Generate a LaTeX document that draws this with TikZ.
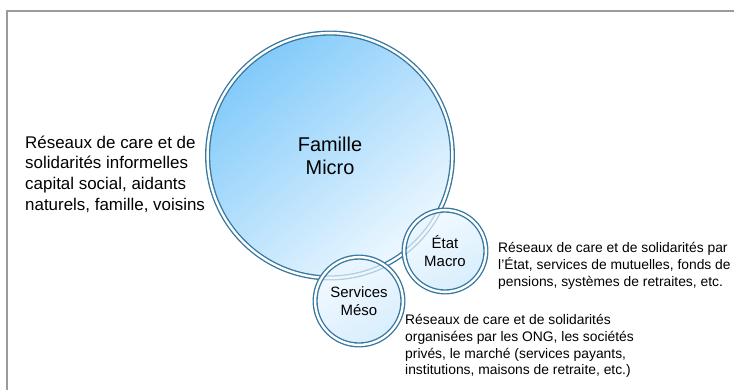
\documentclass[tikz,border=0pt]{standalone}
\usepackage{fontspec}
\setmainfont{Liberation Sans}
\definecolor{ringblue}{RGB}{55,120,160}
\definecolor{bigtl}{RGB}{130,202,250}
\definecolor{bigbr}{RGB}{238,248,255}
\definecolor{smalltop}{RGB}{238,248,255}
\definecolor{smallbot}{RGB}{200,230,251}
\definecolor{framegray}{RGB}{155,155,155}
\tikzset{
  ring/.style={circle, draw=ringblue, line width=1.35bp, double=white,
    double distance=2.4bp, inner sep=0pt, outer sep=0pt, align=center},
  bigring/.style={ring, top color=bigtl, bottom color=bigbr, shading angle=40,
    font=\fontsize{20}{23}\selectfont},
  smallring/.style={ring, top color=smalltop, bottom color=smallbot, shading angle=30,
    fill opacity=0.7, text opacity=1, font=\fontsize{15}{18.5}\selectfont},
  desc/.style={inner sep=0pt, anchor=west, align=left},
}
\begin{document}
\begin{tikzpicture}[x=1bp, y=-1bp]
\useasboundingbox (0,0) rectangle (734,390);
\draw[framegray, line width=1.2bp] (7,390) -- (7,11) -- (734,11);
\node[bigring, minimum size=244.8bp] (famille) at (330,155.5) {Famille\\Micro};
\node[smallring, minimum size=81.8bp] (etat) at (445,251) {État\\Macro};
\node[smallring, minimum size=87.8bp] (services) at (359,301) {Services\\Méso};
\node[desc, font=\fontsize{17}{20.7}\selectfont] (ldesc) at (25,174)
  {Réseaux de care et de\\solidarités informelles\\capital social, aidants\\naturels, famille, voisins};
\node[desc, font=\fontsize{13.9}{17}\selectfont] (edesc) at (498,266)
  {Réseaux de care et de solidarités par\\l'État, services de mutuelles, fonds de\\pensions, systèmes de retraites, etc.};
\node[desc, font=\fontsize{13.9}{16.8}\selectfont] (sdesc) at (405,346)
  {Réseaux de care et de solidarités\\organisées par les ONG, les sociétés\\privés, le marché (services payants,\\institutions, maisons de retraite, etc.)};
\end{tikzpicture}
\end{document}
